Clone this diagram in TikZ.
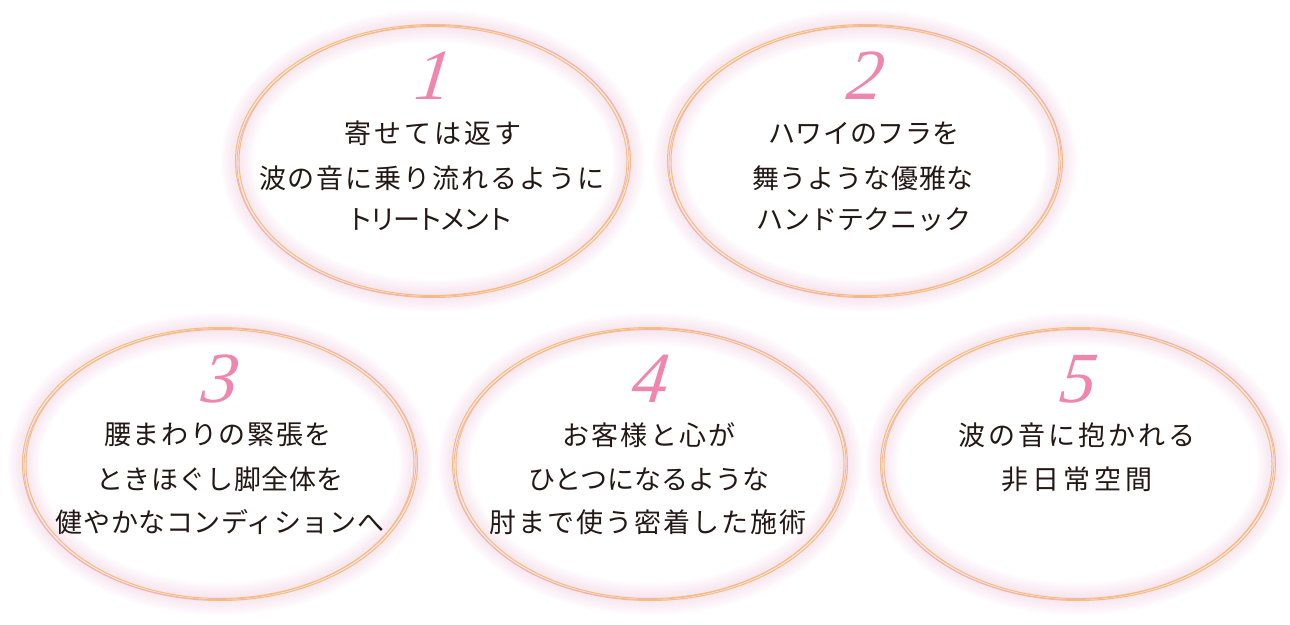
\documentclass[tikz,border=0pt]{standalone}
\usepackage{fontspec}
\newfontfamily\jpf{Noto Sans CJK JP}
\newfontfamily\numf{Liberation Serif}[ItalicFeatures={FakeSlant=0.12}]
\definecolor{inkc}{HTML}{231815}
\definecolor{numc}{HTML}{EE86AE}
\definecolor{goldc}{HTML}{F6C071}
\definecolor{pinkc}{HTML}{F5AEBE}
\definecolor{glowc}{HTML}{F8B4D6}
\tikzset{
 x=1pt,y=-1pt,
 numlabel/.style={text=numc,font=\fontsize{72}{72}\selectfont\numf\itshape,inner sep=0pt,anchor=center},
 txtline/.style={text=inkc,font=\fontsize{27}{27}\selectfont\jpf,inner sep=0pt,anchor=center},
 ringg/.style={draw=goldc,line width=1pt,fill=none},
 ringp/.style={draw=pinkc,line width=.8pt,fill=none},
}
\newcommand{\sline}[2]{\addfontfeature{LetterSpace=#1}#2}
\newcommand{\ovalitem}[3]{%
 \foreach \w in {32,28,...,4}{
  \draw[glowc,line width=\w pt,opacity=.042] (#1,#2) ellipse [x radius=196,y radius=135];
 }
 \draw[ringg] (#1,#2) ellipse [x radius=197.5,y radius=136.5];
 \draw[ringp] (#1,#2) ellipse [x radius=196,y radius=135.5,rotate=1.2];
 \draw[ringg] (#1,#2) ellipse [x radius=194,y radius=134.5];
 \node[numlabel] (n#3) at (#1-2,#2-85) {#3};
}
\begin{document}
\begin{tikzpicture}
\useasboundingbox (0,0) rectangle (1290,624);
\fill[white] (0,0) rectangle (1290,624);
\ovalitem{433}{161}{1}
\ovalitem{865}{161}{2}
\ovalitem{220}{464}{3}
\ovalitem{650}{464}{4}
\ovalitem{1078}{464}{5}
\node[txtline] (a1) at (433,133) {\sline{11}{寄せては返す}};
\node[txtline] (a2) at (432,178) {\sline{7.4}{波の音に乗り流れるように}};
\node[txtline] (a3) at (430,220) {\sline{-13}{トリートメント}};
\node[txtline] (b1) at (864,133) {\sline{1.5}{ハワイのフラを}};
\node[txtline] (b2) at (863,178) {\sline{3}{舞うような優雅な}};
\node[txtline] (b3) at (864,220) {\sline{-1}{ハンドテクニック}};
\node[txtline] (c1) at (218,435) {\sline{6.3}{腰まわりの緊張を}};
\node[txtline] (c2) at (220,479) {\sline{2}{ときほぐし脚全体を}};
\node[txtline] (c3) at (220,522) {\sline{2}{健やかなコンディションへ}};
\node[txtline] (d1) at (649,435) {\sline{8.5}{お客様と心が}};
\node[txtline] (d2) at (649,479) {\sline{0}{ひとつになるような}};
\node[txtline] (d3) at (648,522) {\sline{7.4}{肘まで使う密着した施術}};
\node[txtline] (e1) at (1077,435) {\sline{11}{波の音に抱かれる}};
\node[txtline] (e2) at (1077,479) {\sline{15}{非日常空間}};
\end{tikzpicture}
\end{document}
